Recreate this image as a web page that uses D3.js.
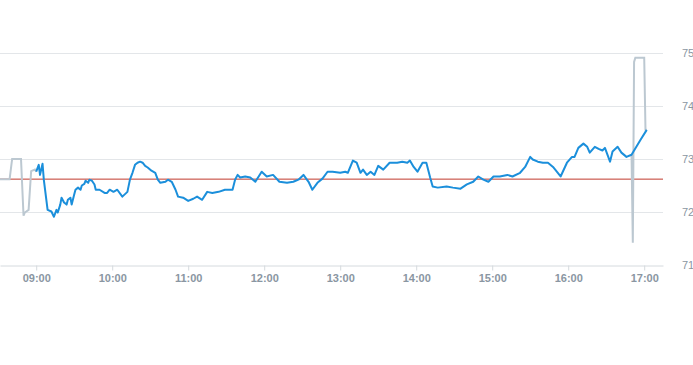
<!DOCTYPE html>
<html>
<head>
<meta charset="utf-8">
<script src="https://cdn.jsdelivr.net/npm/d3@7"></script>
<style>
  body { margin: 0; background: #fff; }
  svg { display: block; font-family: "Open Sans", "Liberation Sans", sans-serif; }
  .tick text { fill: #8a96a2; font-size: 11px; font-weight: 600; }
</style>
</head>
<body>
<div id="chart"></div>
<script>
// intraday prices, main session
const mainTimes = ['09:00','09:02','09:03','09:05','09:06','09:08','09:09','09:12','09:14','09:16',
  '09:17','09:19','09:20','09:22','09:24','09:25','09:27','09:28','09:30','09:31',
  '09:33','09:35','09:36','09:38','09:39','09:41','09:42','09:44','09:46','09:47',
  '09:50','09:54','09:56','09:58','10:01','10:04','10:08','10:12','10:14','10:16',
  '10:18','10:20','10:22','10:24','10:26','10:28','10:31','10:34','10:36','10:38',
  '10:42','10:44','10:47','10:50','10:52','10:56','11:00','11:04','11:07','11:11',
  '11:15','11:19','11:24','11:29','11:35','11:37','11:39','11:41','11:45','11:49',
  '11:53','11:58','12:02','12:07','12:12','12:18','12:23','12:27','12:31','12:35',
  '12:38','12:42','12:46','12:50','12:54','13:00','13:04','13:06','13:10','13:13',
  '13:16','13:18','13:21','13:24','13:27','13:30','13:34','13:39','13:45','13:49',
  '13:53','13:55','13:58','14:01','14:05','14:08','14:11','14:13','14:17','14:24',
  '14:29','14:35','14:40','14:45','14:49','14:53','14:57','15:01','15:06','15:12',
  '15:16','15:22','15:26','15:30','15:32','15:36','15:40','15:44','15:48','15:54',
  '15:59','16:03','16:05','16:08','16:12','16:15','16:17','16:21','16:24','16:27',
  '16:29','16:33','16:35','16:39','16:42','16:46','16:50','16:57','17:02'];
const mainValues = [72.76,72.89,72.70,72.91,72.61,72.23,72.04,72.01,71.91,72.04,
  71.99,72.14,72.27,72.18,72.14,72.23,72.27,72.14,72.33,72.42,
  72.46,72.42,72.50,72.53,72.59,72.55,72.61,72.59,72.52,72.42,
  72.42,72.36,72.36,72.42,72.38,72.42,72.29,72.38,72.61,72.74,
  72.89,72.93,72.95,72.93,72.87,72.84,72.78,72.74,72.61,72.55,
  72.57,72.61,72.57,72.42,72.29,72.27,72.21,72.25,72.29,72.23,
  72.38,72.36,72.38,72.42,72.42,72.61,72.70,72.65,72.67,72.65,
  72.57,72.76,72.67,72.70,72.57,72.55,72.57,72.61,72.70,72.57,
  72.42,72.55,72.63,72.76,72.76,72.74,72.76,72.74,72.97,72.93,
  72.74,72.80,72.70,72.76,72.70,72.87,72.80,72.93,72.93,72.95,
  72.93,72.97,72.85,72.76,72.93,72.93,72.65,72.48,72.46,72.48,
  72.46,72.44,72.52,72.57,72.67,72.61,72.57,72.67,72.67,72.70,
  72.67,72.74,72.85,73.04,72.99,72.95,72.93,72.93,72.85,72.67,
  72.93,73.04,73.04,73.21,73.29,73.23,73.12,73.23,73.19,73.16,
  73.21,72.95,73.14,73.23,73.12,73.04,73.08,73.36,73.55];

// pre-market and closing auction
const extTimes = ['08:31','08:39','08:41','08:48','08:50','08:51','08:54','08:56','08:59','09:00',
  null,
  '16:50','16:51','16:52','16:53','17:00','17:01','17:02'];
const extValues = [72.62,72.62,73.00,73.00,71.93,71.99,72.04,72.77,72.80,72.76,
  null,
  73.08,71.42,74.83,74.91,74.91,73.55,73.55];

const refValue = 72.62;
const yTicks = [71, 72, 73, 74, 75];
const xTickLabels = ['09:00','10:00','11:00','12:00','13:00','14:00','15:00','16:00','17:00'];

const parse = d3.timeParse('%H:%M');
const mainData = mainTimes.map((t, i) => ({ t: parse(t), v: mainValues[i] }));
const extData = extTimes.map((t, i) => t === null ? null : { t: parse(t), v: extValues[i] });

const w = 693, h = 365;
const plot = { left: 0, right: 663, top: 53, bottom: 265 };

const x = d3.scaleTime()
  .domain([parse('08:31').getTime() + 25000, parse('17:14').getTime() + 50000])
  .range([plot.left, plot.right]);
const y = d3.scaleLinear().domain([71, 75]).range([plot.bottom, plot.top]);

const svg = d3.select('#chart').append('svg').attr('width', w).attr('height', h);

// grid lines
svg.append('g')
  .selectAll('line')
  .data(yTicks.slice(1))
  .enter()
  .append('line')
  .attr('x1', plot.left).attr('x2', plot.right)
  .attr('y1', d => Math.round(y(d)) + 0.5).attr('y2', d => Math.round(y(d)) + 0.5)
  .attr('stroke', '#e3e6e9');

// y axis on the right
const yAxis = d3.axisRight(y)
  .tickValues(yTicks)
  .tickFormat(d3.format('d'))
  .tickSize(0)
  .tickPadding(19);
svg.append('g')
  .attr('transform', 'translate(' + plot.right + ',0)')
  .call(yAxis)
  .call(g => g.select('.domain').remove())
  .call(g => g.selectAll('text')
    .style('font-family', '"Liberation Sans", sans-serif')
    .style('font-weight', 400)
    .style('font-size', '11px'));

// x axis
const xAxis = d3.axisBottom(x)
  .tickValues(xTickLabels.map(parse))
  .tickFormat(d3.timeFormat('%H:%M'))
  .tickSize(5)
  .tickSizeOuter(0)
  .tickPadding(4);
svg.append('g')
  .attr('transform', 'translate(0,' + (plot.bottom + 0.5) + ')')
  .call(xAxis)
  .call(g => g.select('.domain').attr('stroke', '#d5dade'))
  .call(g => g.selectAll('.tick line').attr('stroke', '#d5dade'));

// reference line
svg.append('line')
  .attr('x1', plot.left).attr('x2', plot.right)
  .attr('y1', y(refValue)).attr('y2', y(refValue))
  .attr('stroke', '#c0392b')
  .attr('stroke-width', 1);

const line = d3.line()
  .defined(d => d !== null)
  .x(d => x(d.t))
  .y(d => y(d.v));

svg.append('path')
  .datum(extData)
  .attr('fill', 'none')
  .attr('stroke', '#bcc8d1')
  .attr('stroke-width', 2)
  .attr('d', line);

svg.append('path')
  .datum(mainData)
  .attr('fill', 'none')
  .attr('stroke', '#1b8fdb')
  .attr('stroke-width', 2)
  .attr('stroke-linejoin', 'round')
  .attr('d', line);
</script>
</body>
</html>
